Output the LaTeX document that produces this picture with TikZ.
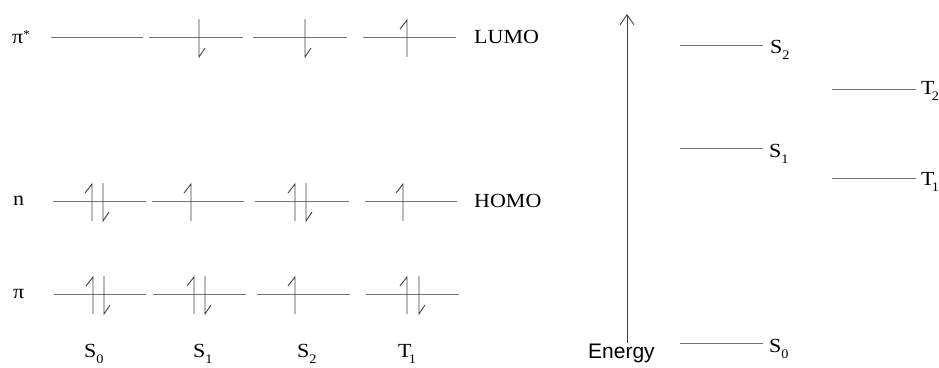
\documentclass[tikz,border=0pt]{standalone}
\usepackage{fontspec}
\setmainfont{Liberation Serif}
\newfontfamily\arialf{Liberation Sans}
\usetikzlibrary{arrows.meta}
\newcommand\tlab[1]{\scalebox{1.1}[1]{\fontsize{20}{22}\selectfont #1}}
\newcommand\lsub[2]{#1\raisebox{-6pt}{\fontsize{13}{13}\selectfont #2}}
\newcommand\tsub[2]{#1\kern-2.5pt\raisebox{-6pt}{\fontsize{13}{13}\selectfont #2}}
\begin{document}
\begin{tikzpicture}[x=1pt,y=-1pt,
  lvl/.style={draw=black!55,line width=0.9pt},
  elec/.style={draw=black!75,line width=0.9pt},
  lab/.style={inner sep=0pt,anchor=base west},
  upe/.pic={\draw[elec] (0,20) -- (0,-17) -- (-7,-8);},
  dne/.pic={\draw[elec] (0,-18) -- (0,20) -- (6,11);}]
\useasboundingbox (0,0) rectangle (939,367);

% ---- left: orbital rows ----
\node[inner sep=0pt,anchor=west] (pistar) at (12,37) {\tlab{π\raisebox{5pt}{\fontsize{12}{12}\selectfont *}}};
\node[inner sep=0pt,anchor=west] (nlab) at (13,201) {\tlab{n}};
\node[inner sep=0pt,anchor=west] (pilab) at (13,294) {\tlab{π}};
\node[inner sep=0pt,anchor=west] (lumo) at (474,37) {\tlab{LUMO}};
\node[inner sep=0pt,anchor=west] (homo) at (474,201) {\tlab{HOMO}};

% pi* row
\draw[lvl] (51,37) -- (143,37);
\draw[lvl] (149,37) -- (243,37);
\draw[lvl] (253,37) -- (347,37);
\draw[lvl] (363,37) -- (456,37);
\pic at (199,37) {dne};
\pic at (305,37) {dne};
\pic at (407,37) {upe};

% n row
\draw[lvl] (53,201) -- (146,201);
\draw[lvl] (152,201) -- (244,201);
\draw[lvl] (255,201) -- (349,201);
\draw[lvl] (365,201) -- (457,201);
\pic at (92,201) {upe};
\pic at (103,201) {dne};
\pic at (191,201) {upe};
\pic at (295,201) {upe};
\pic at (306,201) {dne};
\pic at (403,201) {upe};

% pi row
\draw[lvl] (54,294) -- (146,294);
\draw[lvl] (153,294) -- (246,294);
\draw[lvl] (257,294) -- (350,294);
\draw[lvl] (366,294) -- (459,294);
\pic at (93,294) {upe};
\pic at (104,294) {dne};
\pic at (194,294) {upe};
\pic at (205,294) {dne};
\pic at (295,294) {upe};
\pic at (407,294) {upe};
\pic at (419,294) {dne};

% state labels
\node[lab] (ls0) at (84,357) {\tlab{\lsub{S}{0}}};
\node[lab] (ls1) at (193,357) {\tlab{\lsub{S}{1}}};
\node[lab] (ls2) at (297,357) {\tlab{\lsub{S}{2}}};
\node[lab] (lt1) at (398,357) {\tlab{\tsub{T}{1}}};

% ---- right: energy diagram ----
\coordinate (ebot) at (627,343);
\coordinate (etop) at (627,14);
\draw[elec,-{Straight Barb[length=10pt,width=14pt,line width=0.9pt]}] (ebot) -- (etop);
\node[lab] (energy) at (588,358) {\fontsize{21}{24}\selectfont\arialf Energy};

\coordinate (s2a) at (680,45);  \coordinate (s2b) at (763,45);
\coordinate (s1a) at (680,148); \coordinate (s1b) at (763,148);
\coordinate (s0a) at (680,343); \coordinate (s0b) at (763,343);
\coordinate (t2a) at (832,89);  \coordinate (t2b) at (916,89);
\coordinate (t1a) at (832,178); \coordinate (t1b) at (916,178);
\draw[lvl] (s2a) -- (s2b);
\draw[lvl] (s1a) -- (s1b);
\draw[lvl] (s0a) -- (s0b);
\draw[lvl] (t2a) -- (t2b);
\draw[lvl] (t1a) -- (t1b);
\node[lab] (es2) at (770,53) {\tlab{\lsub{S}{2}}};
\node[lab] (es1) at (769,157) {\tlab{\lsub{S}{1}}};
\node[lab] (es0) at (769,352) {\tlab{\lsub{S}{0}}};
\node[lab] (et2) at (921,94) {\tlab{\tsub{T}{2}}};
\node[lab] (et1) at (921,185) {\tlab{\tsub{T}{1}}};
\end{tikzpicture}
\end{document}
